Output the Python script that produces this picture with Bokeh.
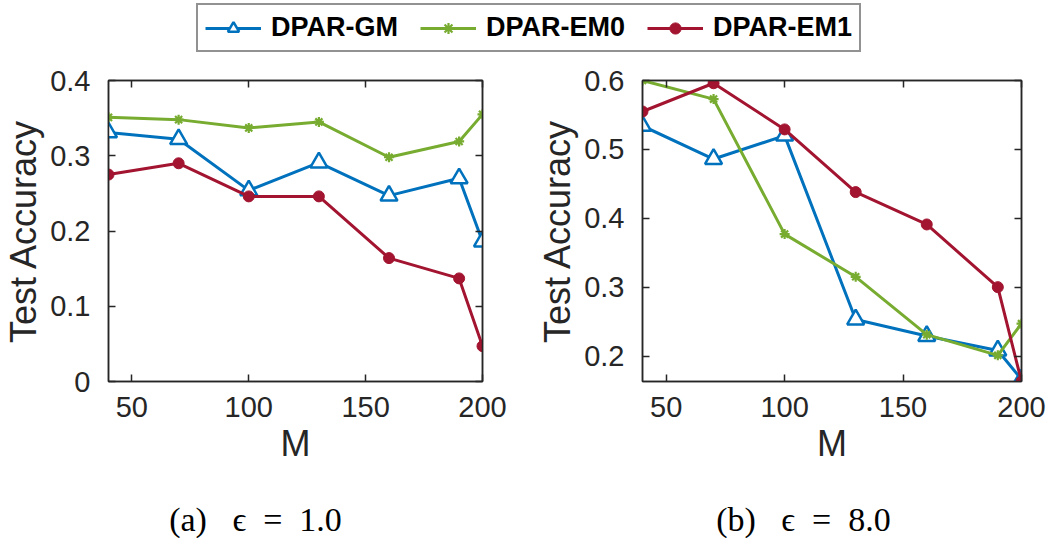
from bokeh.plotting import figure
from bokeh.models import (Range1d, FixedTicker, LinearAxis, Legend, LegendItem,
                          Label, ColumnDataSource)
from bokeh.layouts import column, row
from bokeh.embed import file_html
from bokeh.resources import INLINE

# ---------------- data ----------------
M = [40, 70, 100, 130, 160, 190, 200]

gm_eps1 = [0.331, 0.322, 0.254, 0.291, 0.247, 0.270, 0.186]
em0_eps1 = [0.351, 0.348, 0.337, 0.345, 0.298, 0.319, 0.355]
em1_eps1 = [0.275, 0.290, 0.246, 0.246, 0.164, 0.137, 0.047]

gm_eps8 = [0.534, 0.486, 0.520, 0.253, 0.229, 0.208, 0.166]
em0_eps8 = [0.600, 0.573, 0.377, 0.315, 0.231, 0.201, 0.247]
em1_eps8 = [0.555, 0.596, 0.529, 0.438, 0.391, 0.300, 0.163]

series_names = ["DPAR-GM", "DPAR-EM0", "DPAR-EM1"]
x_ticks = [50, 100, 150, 200]
x_tick_labels = ["50", "100", "150", "200"]
y_ticks_a = [0, 0.1, 0.2, 0.3, 0.4]
y_tick_labels_a = ["0", "0.1", "0.2", "0.3", "0.4"]
y_ticks_b = [0.2, 0.3, 0.4, 0.5, 0.6]
y_tick_labels_b = ["0.2", "0.3", "0.4", "0.5", "0.6"]
NB = "\u00a0"
captions = ["(a)" + NB * 3 + "\u03f5" + NB * 2 + "=" + NB * 2 + "1.0",
            "(b)" + NB * 3 + "\u03f5" + NB * 2 + "=" + NB * 2 + "8.0"]

# ---------------- style ----------------
BLUE = "#0072BD"
GREEN = "#77AC30"
RED = "#A2142F"
AX = "#262626"
SANS = "Liberation Sans"
TICK_FS = "29px"
LABEL_FS = "36px"


def add_series(p, y, color, marker):
    src = ColumnDataSource(dict(x=M, y=y))
    ln = p.line("x", "y", source=src, line_color=color, line_width=3)
    if marker == "triangle":
        sc = p.scatter("x", "y", source=src, marker="triangle", size=17,
                       line_color=color, line_width=2.5, fill_color="white")
    elif marker == "asterisk":
        sc = p.scatter("x", "y", source=src, marker="asterisk", size=10,
                       line_color=color, line_width=2.2)
    else:
        sc = p.scatter("x", "y", source=src, marker="circle", size=11,
                       line_color=color, fill_color=color)
    return ln, sc


def style_axis(ax):
    ax.minor_tick_line_color = None
    ax.major_tick_in = 7
    ax.major_tick_out = 0
    ax.axis_line_color = AX
    ax.axis_line_width = 1.5
    ax.major_tick_line_color = AX
    ax.major_tick_line_width = 1.5


def make_panel(ydata, yr, yticks, ylabels, width, border_left, border_right):
    p = figure(width=width, height=426, output_backend="svg", toolbar_location=None,
               x_range=Range1d(40, 200), y_range=Range1d(*yr),
               min_border_left=border_left, min_border_right=border_right,
               min_border_top=16, min_border_bottom=109)
    p.grid.visible = False
    p.outline_line_color = AX
    p.outline_line_width = 1.5
    p.background_fill_color = "white"
    p.border_fill_color = "white"

    p.xaxis.ticker = FixedTicker(ticks=x_ticks)
    p.xaxis.major_label_overrides = dict(zip(x_ticks, x_tick_labels))
    p.xaxis.axis_label = "M"
    p.xaxis.major_label_standoff = 15
    p.xaxis.axis_label_standoff = 3

    p.yaxis.ticker = FixedTicker(ticks=yticks)
    p.yaxis.major_label_overrides = dict(zip(yticks, ylabels))
    p.yaxis.axis_label = "Test Accuracy"
    p.yaxis.major_label_standoff = 18
    p.yaxis.axis_label_standoff = 3

    for ax in p.xaxis + p.yaxis:
        style_axis(ax)
        ax.major_label_text_font = SANS
        ax.major_label_text_font_size = TICK_FS
        ax.major_label_text_color = AX
        ax.axis_label_text_font = SANS
        ax.axis_label_text_font_size = LABEL_FS
        ax.axis_label_text_font_style = "normal"
        ax.axis_label_text_color = AX

    # box ticks on top and right (MATLAB style)
    top = LinearAxis(ticker=FixedTicker(ticks=x_ticks),
                     major_label_overrides={t: "" for t in x_ticks})
    right = LinearAxis(ticker=FixedTicker(ticks=yticks),
                       major_label_overrides={t: "" for t in yticks})
    for ax in (top, right):
        style_axis(ax)
        ax.major_label_text_font_size = "1px"
        ax.major_label_standoff = 0
    p.add_layout(top, "above")
    p.add_layout(right, "right")

    gm, em0, em1 = ydata
    add_series(p, gm, BLUE, "triangle")
    add_series(p, em0, GREEN, "asterisk")
    add_series(p, em1, RED, "circle")
    return p


pa = make_panel((gm_eps1, em0_eps1, em1_eps1), (0, 0.4), y_ticks_a, y_tick_labels_a,
                525, 102, 43)
pb = make_panel((gm_eps8, em0_eps8, em1_eps8), (0.163, 0.6), y_ticks_b, y_tick_labels_b,
                523, 117, 27)

# ---------------- legend strip ----------------
lg = figure(width=1048, height=64, output_backend="svg", toolbar_location=None,
            x_axis_location=None, y_axis_location=None,
            min_border=0, x_range=Range1d(0, 1), y_range=Range1d(0, 1))
lg.outline_line_color = None
lg.grid.visible = False
items = []
for name, y, color, marker in zip(series_names, (gm_eps1, em0_eps1, em1_eps1),
                                  (BLUE, GREEN, RED), ("triangle", "asterisk", "circle")):
    ln, sc = add_series(lg, y, color, marker)
    ln.visible = False
    sc.visible = False
    items.append(LegendItem(label=name, renderers=[ln, sc]))
legend = Legend(items=items, orientation="horizontal", location=(196, 12),
                glyph_width=56, glyph_height=28, label_height=28,
                label_text_font=SANS, label_text_font_size="27px",
                label_text_font_style="bold", label_text_color="black",
                label_standoff=10, spacing=22, padding=7, margin=0,
                border_line_color=AX, border_line_width=2,
                background_fill_color="white", click_policy="none")
lg.add_layout(legend, "center")

# ---------------- captions ----------------
cap = figure(width=1048, height=48, output_backend="svg", toolbar_location=None,
             x_axis_location=None, y_axis_location=None,
             min_border=0, x_range=Range1d(0, 1), y_range=Range1d(0, 1))
cap.outline_line_color = None
cap.grid.visible = False
for text, cx in zip(captions, (255, 803)):
    cap.add_layout(Label(x=cx, y=19, x_units="screen", y_units="screen", text=text,
                         text_font="Liberation Serif", text_font_size="34px",
                         text_align="center", text_baseline="middle",
                         text_color="black"))

layout = column(lg, row(pa, pb, spacing=0), cap, spacing=0)

open("out.html", "w").write(file_html(layout, INLINE))
